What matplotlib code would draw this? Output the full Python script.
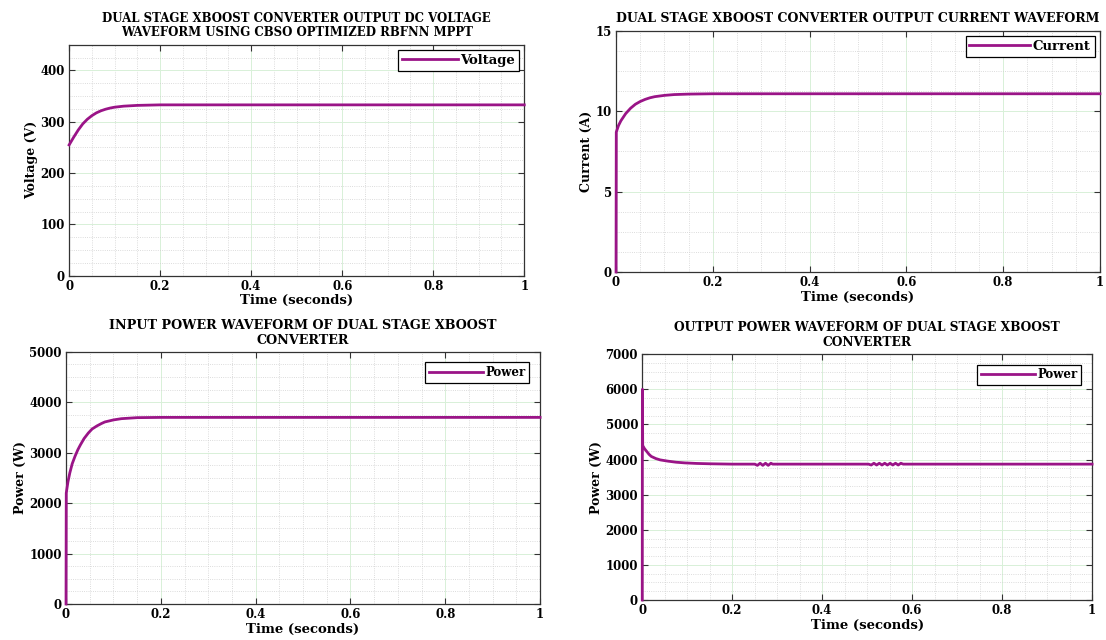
#!/usr/bin/env python3
import matplotlib
matplotlib.use("Agg")
import matplotlib.pyplot as plt
from matplotlib.ticker import AutoMinorLocator

# data (time in seconds)
t_volt = [0, 0.01, 0.02, 0.03, 0.04, 0.05, 0.06, 0.07, 0.08, 0.09, 0.1, 0.12, 0.15, 0.2, 0.4, 0.6, 0.8, 1.0]
voltage = [255, 270, 284, 296, 305, 312, 317.5, 321.5, 324.5, 326.8, 328.5, 330.5, 332, 333, 333, 333, 333, 333]

t_curr = [0, 0.0005, 0.005, 0.01, 0.02, 0.03, 0.04, 0.05, 0.06, 0.07, 0.08, 0.1, 0.12, 0.15, 0.2, 0.4, 0.6, 0.8, 1.0]
current = [0, 8.7, 9.1, 9.4, 9.85, 10.18, 10.43, 10.6, 10.73, 10.83, 10.9, 10.98, 11.03, 11.06, 11.08,
           11.08, 11.08, 11.08, 11.08]

t_pin = [0, 0.0005, 0.004, 0.008, 0.013, 0.019, 0.025, 0.03, 0.038, 0.047, 0.055, 0.065, 0.075, 0.082,
         0.1, 0.117, 0.15, 0.2, 0.4, 0.6, 0.8, 1.0]
p_in = [0, 2200, 2420, 2600, 2780, 2930, 3060, 3150, 3280, 3390, 3470, 3530, 3580, 3610,
        3650, 3675, 3695, 3700, 3700, 3700, 3700, 3700]

t_pout = [0, 0.0003, 0.001, 0.005, 0.01, 0.015, 0.02, 0.03, 0.04, 0.057, 0.075, 0.095, 0.12, 0.15, 0.2, 0.25,
          0.256, 0.262, 0.268, 0.274, 0.28, 0.286, 0.29, 0.503,
          0.509, 0.515, 0.521, 0.527, 0.533, 0.539, 0.545, 0.551, 0.557, 0.563, 0.569, 0.575, 0.58, 1.0]
p_out = [0, 6000, 4400, 4310, 4230, 4150, 4090, 4030, 3990, 3955, 3925, 3905, 3890, 3880, 3870, 3870,
         3835, 3895, 3835, 3895, 3835, 3895, 3870, 3870,
         3845, 3895, 3845, 3895, 3845, 3895, 3845, 3895, 3845, 3895, 3845, 3895, 3870, 3870]

xticks = [0, 0.2, 0.4, 0.6, 0.8, 1]
xticklabels = ["0", "0.2", "0.4", "0.6", "0.8", "1"]

line_color = "#9A1487"
plt.rcParams["font.family"] = "DejaVu Serif"
plt.rcParams["font.weight"] = "bold"

fig = plt.figure(figsize=(11.06, 6.4), dpi=100)


def style(ax, ylim, yticks, ylabel, title, titlesize, legend_label, legsize, hlen, bpad):
    ax.set_xlim(0, 1)
    ax.set_ylim(*ylim)
    ax.set_xticks(xticks)
    ax.set_xticklabels(xticklabels)
    ax.set_yticks(yticks)
    ax.xaxis.set_minor_locator(AutoMinorLocator(4))
    ax.yaxis.set_minor_locator(AutoMinorLocator(4))
    ax.grid(which="major", color="#d8f0d8", linewidth=0.7)
    ax.grid(which="minor", color="#d0d0d0", linestyle=":", linewidth=0.6)
    ax.set_axisbelow(True)
    ax.tick_params(which="major", direction="in", top=True, right=True, length=4,
                   labelsize=8.5, color="#333333", pad=3)
    ax.tick_params(which="minor", length=0)
    for s in ax.spines.values():
        s.set_color("#333333")
        s.set_linewidth(0.9)
    ax.set_xlabel("Time (seconds)", fontsize=9.5, fontweight="bold", labelpad=1)
    ax.set_ylabel(ylabel, fontsize=9, fontweight="bold", labelpad=2)
    ax.set_title(title, fontsize=titlesize, fontweight="bold", pad=6, linespacing=1.15)
    leg = ax.legend([legend_label], loc="upper right", fontsize=legsize, fancybox=False,
                    edgecolor="black", framealpha=1, handlelength=hlen, borderpad=0.3,
                    handletextpad=0.2, borderaxespad=bpad)
    leg.get_frame().set_linewidth(0.9)


# lines sit above the spines so the jump at t=0 shows on the left edge
ax1 = fig.add_axes([0.0625, 0.569, 0.4115, 0.361])
ax1.plot(t_volt, voltage, color=line_color, linewidth=2, zorder=3, clip_on=False)
style(ax1, (0, 450), [0, 100, 200, 300, 400], "Voltage (V)",
      "DUAL STAGE XBOOST CONVERTER OUTPUT DC VOLTAGE\nWAVEFORM USING CBSO OPTIMIZED RBFNN MPPT",
      8.5, "Voltage", 9.5, 4.2, 0.4)

ax2 = fig.add_axes([0.557, 0.575, 0.4375, 0.377])
ax2.plot(t_curr, current, color=line_color, linewidth=2, zorder=3, clip_on=False)
style(ax2, (0, 15), [0, 5, 10, 15], "Current (A)",
      "DUAL STAGE XBOOST CONVERTER OUTPUT CURRENT WAVEFORM", 9,
      "Current", 9.5, 4.6, 0.4)

ax3 = fig.add_axes([0.0597, 0.05625, 0.4286, 0.394])
ax3.plot(t_pin, p_in, color=line_color, linewidth=2, zorder=3, clip_on=False)
style(ax3, (0, 5000), [0, 1000, 2000, 3000, 4000, 5000], "Power (W)",
      "INPUT POWER WAVEFORM OF DUAL STAGE XBOOST\nCONVERTER", 9.2,
      "Power", 8.5, 4.6, 0.9)

ax4 = fig.add_axes([0.5807, 0.0625, 0.4067, 0.384])
ax4.plot(t_pout, p_out, color=line_color, linewidth=2, zorder=3, clip_on=False)
style(ax4, (0, 7000), [0, 1000, 2000, 3000, 4000, 5000, 6000, 7000], "Power (W)",
      "OUTPUT POWER WAVEFORM OF DUAL STAGE XBOOST\nCONVERTER", 8.8,
      "Power", 8.5, 4.6, 0.9)

plt.savefig("out.png", dpi=100)
